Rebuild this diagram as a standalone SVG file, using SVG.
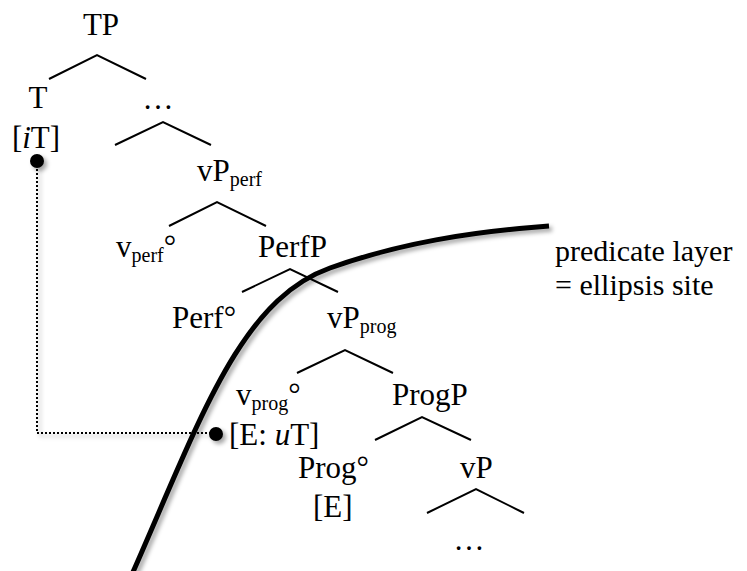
<svg xmlns="http://www.w3.org/2000/svg" width="747" height="571" viewBox="0 0 747 571">
<style>
text{font-family:"Liberation Serif","Times New Roman",serif;font-size:31px;fill:#000}
.sub{font-size:20px}
.m{text-anchor:middle}
.lab{font-size:30px}
.br{fill:none;stroke:#000;stroke-width:2}
.dot{fill:#000}
</style>
<defs>
<filter id="sh" x="-20%" y="-20%" width="140%" height="140%">
<feDropShadow dx="3" dy="3" stdDeviation="2" flood-color="#000" flood-opacity="0.35"/>
</filter>
</defs>
<rect width="747" height="571" fill="#fff"/>
<g id="connectors">
<polyline class="br" points="49,79 97,55 146,79"/>
<polyline class="br" points="115,145 163,122 211,145"/>
<polyline class="br" points="169,226 217,202 266,226"/>
<polyline class="br" points="242,292 290,269 338,292"/>
<polyline class="br" points="297,373 345,350 393,373"/>
<polyline class="br" points="375,440 422,417 471,440"/>
<polyline class="br" points="427,513 476,489 524,513"/>
</g>
<g id="agree-link" filter="url(#sh)">
<polyline points="37,165 37,433 210,433" fill="none" stroke="#000" stroke-width="2" stroke-dasharray="2,2"/>
</g>
<g id="nodes">
<g id="TP"><text x="101" y="35" class="m">TP</text></g>
<g id="T"><text x="38" y="108" class="m">T</text><text x="36" y="148" class="m">[<tspan font-style="italic">i</tspan>T]</text></g>
<g id="dots1"><text x="158" y="109" class="m">…</text></g>
<g id="vPperf"><text x="197" y="181">vP<tspan class="sub" dy="5">perf</tspan></text></g>
<g id="vperf"><text x="116" y="257">v<tspan class="sub" dy="5">perf</tspan><tspan dy="-5">°</tspan></text></g>
<g id="PerfP"><text x="258" y="257">PerfP</text></g>
<g id="Perf"><text x="172" y="328">Perf°</text></g>
<g id="vPprog"><text x="327" y="328">vP<tspan class="sub" dy="5">prog</tspan></text></g>
<g id="vprog"><text x="236" y="405">v<tspan class="sub" dy="5">prog</tspan><tspan dy="-5">°</tspan></text><text x="229" y="445">[E: <tspan font-style="italic">u</tspan>T]</text></g>
<g id="ProgP"><text x="392" y="405">ProgP</text></g>
<g id="Prog"><text x="298" y="478">Prog°</text><text x="313" y="517">[E]</text></g>
<g id="vP"><text x="460" y="478">vP</text></g>
<g id="dots2"><text x="469" y="550" class="m">…</text></g>
<g id="label"><text class="lab" x="555" y="261">predicate layer</text><text class="lab" x="555" y="295">= ellipsis site</text></g>
</g>
<g id="boundary" filter="url(#sh)">
<path d="M133 572 C200 420 240 300 330 268 C400 243 470 232 549 226" fill="none" stroke="#000" stroke-width="5"/>
</g>
<g id="dots" filter="url(#sh)">
<circle class="dot" cx="37" cy="161" r="7"/>
<circle class="dot" cx="216" cy="434" r="7"/>
</g>
</svg>
